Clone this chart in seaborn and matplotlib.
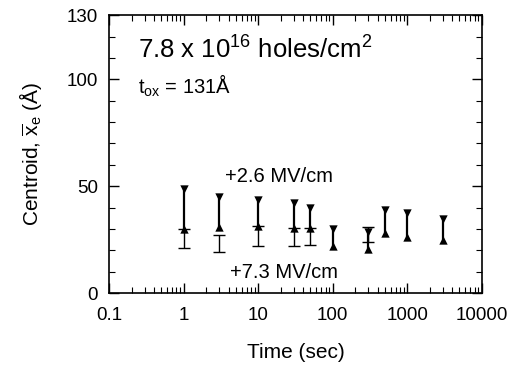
import numpy as np
import matplotlib
matplotlib.use("Agg")
import matplotlib.pyplot as plt
import matplotlib.ticker as mticker
import seaborn as sns

# data
# +2.6 MV/cm: range drawn from up-triangle (low) to down-triangle (high)
t_26 = [1, 3, 10, 30, 50, 100, 300, 500, 1000, 3000]
low_26 = [30, 31, 31.3, 30.4, 30.4, 22, 20.6, 28, 26, 24.8]
high_26 = [48.6, 45, 43.5, 42, 40, 30, 28.5, 38.8, 37.4, 34.6]

# +7.3 MV/cm: plain capped bars
t_73 = [1, 3, 10, 30, 50, 300]
low_73 = [21, 19, 22, 22, 22.4, 24]
high_73 = [30, 27, 31.3, 30.4, 30.4, 31]

x_ticks = [0.1, 1, 10, 100, 1000, 10000]
x_labels = ["0.1", "1", "10", "100", "1000", "10000"]
y_ticks = [0, 50, 100, 130]

sns.set_style("ticks")
plt.rcParams["font.family"] = ["Liberation Sans", "DejaVu Sans"]
plt.rcParams["mathtext.fontset"] = "custom"
plt.rcParams["mathtext.rm"] = "Liberation Sans"
plt.rcParams["mathtext.it"] = "Liberation Sans"
plt.rcParams["text.color"] = "black"
plt.rcParams["axes.labelcolor"] = "black"

fig = plt.figure(figsize=(5.17, 3.70), dpi=100)
ax = fig.add_axes([0.211, 0.208, 0.721, 0.751])

# +7.3 MV/cm bars
ax.errorbar(t_73, [(a + b) / 2 for a, b in zip(low_73, high_73)],
            yerr=[[(b - a) / 2 for a, b in zip(low_73, high_73)]] * 2,
            fmt="none", ecolor="black", elinewidth=1.0, capsize=4, capthick=1.0)

# +2.6 MV/cm ranges
ax.vlines(t_26, low_26, high_26, color="black", lw=1.6)
sns.scatterplot(x=t_26, y=low_26, marker="^", color="black", s=36,
                edgecolor="black", linewidth=0, ax=ax, zorder=3)
sns.scatterplot(x=t_26, y=high_26, marker="v", color="black", s=36,
                edgecolor="black", linewidth=0, ax=ax, zorder=3)

ax.set_xscale("log")
ax.set_xlim(0.1, 10000)
ax.set_ylim(0, 130)
ax.xaxis.set_major_locator(mticker.FixedLocator(x_ticks))
ax.xaxis.set_major_formatter(mticker.FixedFormatter(x_labels))
ax.xaxis.set_minor_locator(mticker.LogLocator(base=10, subs=np.arange(2, 10)))
ax.xaxis.set_minor_formatter(mticker.NullFormatter())
ax.yaxis.set_major_locator(mticker.FixedLocator(y_ticks))
ax.yaxis.set_minor_locator(mticker.MultipleLocator(10))

for s in ax.spines.values():
    s.set_linewidth(1.2)
    s.set_color("black")
ax.tick_params(which="both", direction="in", top=True, right=True, colors="black",
               labelcolor="black", labelsize=13.5)
ax.tick_params(which="major", length=7, width=1.0)
ax.tick_params(which="minor", length=4, width=0.8)
ax.tick_params(axis="x", which="major", pad=10)
ax.tick_params(axis="y", which="major", pad=8)

ax.set_xlabel("Time (sec)", fontsize=15, labelpad=14)
ax.set_ylabel(r"Centroid, $\overline{\mathrm{x}}_\mathrm{e}$ (Å)", fontsize=15, labelpad=16)

ax.text(0.078, 0.875, r"7.8 x 10$^{16}$ holes/cm$^{2}$", transform=ax.transAxes,
        fontsize=18.5, ha="left", va="center")
ax.text(0.078, 0.745, r"t$_\mathrm{ox}$ = 131Å", transform=ax.transAxes,
        fontsize=14.5, ha="left", va="center")
ax.text(0.455, 0.42, "+2.6 MV/cm", transform=ax.transAxes,
        fontsize=14.5, ha="center", va="center")
ax.text(0.47, 0.075, "+7.3 MV/cm", transform=ax.transAxes,
        fontsize=14.5, ha="center", va="center")

fig.savefig("out.png", dpi=100)
